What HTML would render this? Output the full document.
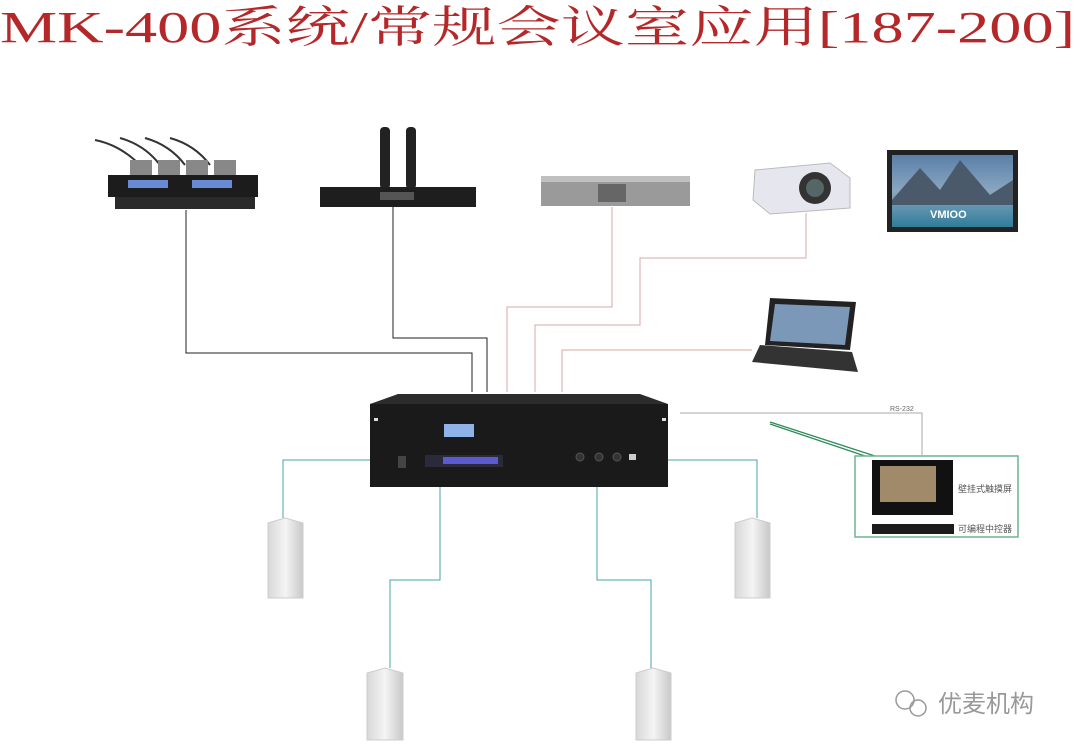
<!DOCTYPE html>
<html><head><meta charset="utf-8"><style>
html,body{margin:0;padding:0;background:#fff;width:1080px;height:750px;overflow:hidden}
</style></head><body>
<svg width="1080" height="750" viewBox="0 0 1080 750" xmlns="http://www.w3.org/2000/svg">
<defs>
<linearGradient id="spk" x1="0" x2="1"><stop offset="0" stop-color="#d8d8d8"/><stop offset="0.5" stop-color="#f4f4f4"/><stop offset="1" stop-color="#c8c8c8"/></linearGradient>
<linearGradient id="scr" x1="0" y1="0" x2="0" y2="1"><stop offset="0" stop-color="#5a7fa8"/><stop offset="0.5" stop-color="#8aa7c0"/><stop offset="1" stop-color="#2f7d9a"/></linearGradient>
</defs>
<text x="0" y="42" font-family="Liberation Serif, Noto Serif CJK SC, serif" font-size="44" fill="#b5282a" textLength="1075" lengthAdjust="spacingAndGlyphs">MK-400系统/常规会议室应用[187-200]</text>

<!-- lines -->
<g fill="none" stroke-width="1">
<polyline points="186,210 186,353 472,353 472,392" stroke="#222"/>
<polyline points="393,207 393,338 487,338 487,392" stroke="#222"/>
<polyline points="612,207 612,307 507,307 507,392" stroke="#d9a8a8"/>
<polyline points="806,213 806,258 640,258 640,325 535,325 535,392" stroke="#d9a8a8"/>
<polyline points="752,350 562,350 562,392" stroke="#d9a8a8"/>
<polyline points="680,413 922,413 922,455" stroke="#aaa"/>
<line x1="770" y1="422" x2="875" y2="456" stroke="#2e8b57" stroke-width="1.2"/>
<line x1="770" y1="424" x2="865" y2="456" stroke="#2e8b57" stroke-width="1.2"/>
<polyline points="370,460 283,460 283,518" stroke="#4aa3a8"/>
<polyline points="440,487 440,580 390,580 390,668" stroke="#4aa3a8"/>
<polyline points="597,487 597,580 651,580 651,668" stroke="#4aa3a8"/>
<polyline points="668,460 757,460 757,518" stroke="#4aa3a8"/>
</g>
<text x="890" y="411" font-family="Liberation Sans, sans-serif" font-size="7" fill="#666">RS-232</text>

<!-- conference mics -->
<g>
<path d="M95,140 Q120,145 140,165 M120,138 Q145,145 160,165 M145,138 Q170,145 185,165 M170,138 Q195,145 210,165" stroke="#333" stroke-width="2" fill="none"/>
<rect x="130" y="160" width="22" height="18" fill="#888"/><rect x="158" y="160" width="22" height="18" fill="#888"/><rect x="186" y="160" width="22" height="18" fill="#888"/><rect x="214" y="160" width="22" height="18" fill="#888"/>
<rect x="108" y="175" width="150" height="22" fill="#1c1c1c"/>
<rect x="128" y="180" width="40" height="8" fill="#6a8ad8"/><rect x="192" y="180" width="40" height="8" fill="#6a8ad8"/>
<rect x="115" y="197" width="140" height="12" fill="#2a2a2a"/>
</g>
<!-- wireless mic -->
<g>
<rect x="380" y="127" width="10" height="62" rx="4" fill="#222"/><rect x="406" y="127" width="10" height="62" rx="4" fill="#222"/>
<rect x="320" y="187" width="156" height="20" fill="#1e1e1e"/>
<rect x="380" y="192" width="34" height="8" fill="#555"/>
</g>
<!-- DVD -->
<g><rect x="541" y="176" width="149" height="30" fill="#9a9a9a"/><rect x="541" y="176" width="149" height="6" fill="#c0c0c0"/><rect x="598" y="184" width="28" height="18" fill="#666"/></g>
<!-- projector -->
<g><path d="M755,170 L830,163 L850,178 L850,208 L770,214 L753,200 Z" fill="#e6e6ee" stroke="#bbb"/><circle cx="815" cy="188" r="16" fill="#333"/><circle cx="815" cy="188" r="9" fill="#566"/></g>
<!-- screen -->
<g><rect x="887" y="150" width="131" height="82" fill="#222"/><rect x="892" y="155" width="121" height="72" fill="url(#scr)"/><path d="M892,200 L920,168 L940,190 L960,160 L990,195 L1013,180 L1013,205 L892,205Z" fill="#4a5a6a"/><text x="930" y="218" font-family="Liberation Sans, sans-serif" font-size="11" font-weight="bold" fill="#fff">VMIOO</text></g>
<!-- laptop -->
<g><path d="M770,298 L856,302 L850,350 L765,345 Z" fill="#222"/><path d="M775,304 L850,307 L845,345 L770,341 Z" fill="#7b98b8"/><path d="M760,345 L852,352 L858,372 L752,362 Z" fill="#333"/></g>

<!-- main unit -->
<g>
<path d="M398,394 L640,394 L668,404 L370,404 Z" fill="#2c2c2c"/>
<rect x="370" y="404" width="298" height="83" fill="#1a1a1a"/>
<rect x="444" y="424" width="30" height="13" fill="#8fb2e8"/>
<rect x="425" y="455" width="78" height="12" fill="#2a2a3a"/><rect x="443" y="457" width="55" height="7" fill="#5b5bd0"/>
<rect x="398" y="456" width="8" height="12" fill="#444"/>
<circle cx="580" cy="457" r="4" fill="#333" stroke="#555"/><circle cx="599" cy="457" r="4" fill="#333" stroke="#555"/><circle cx="617" cy="457" r="4" fill="#333" stroke="#555"/>
<rect x="629" y="454" width="7" height="6" fill="#ccc"/>
<rect x="374" y="418" width="4" height="3" fill="#ddd"/><rect x="662" y="418" width="4" height="3" fill="#ddd"/>
</g>

<!-- speakers -->
<g fill="url(#spk)" stroke="#ccc">
<path d="M268,523 L285,518 L303,523 L303,598 L268,598 Z"/>
<path d="M735,523 L752,518 L770,523 L770,598 L735,598 Z"/>
<path d="M367,673 L385,668 L403,673 L403,740 L367,740 Z"/>
<path d="M636,673 L653,668 L671,673 L671,740 L636,740 Z"/>
</g>

<!-- control box -->
<g>
<rect x="855" y="456" width="163" height="81" fill="#fff" stroke="#6cb58f" stroke-width="1.5"/>
<rect x="872" y="460" width="81" height="55" fill="#111"/>
<rect x="880" y="466" width="56" height="36" fill="#a08a6a"/>
<rect x="872" y="524" width="82" height="10" fill="#1c1c1c"/>
<text x="958" y="492" font-family="Liberation Sans, Noto Sans CJK SC, sans-serif" font-size="9" fill="#555">壁挂式触摸屏</text>
<text x="958" y="532" font-family="Liberation Sans, Noto Sans CJK SC, sans-serif" font-size="9" fill="#555">可编程中控器</text>
</g>

<!-- watermark -->
<g>
<circle cx="905" cy="700" r="9" fill="none" stroke="#999" stroke-width="1.5"/><circle cx="918" cy="708" r="8" fill="none" stroke="#999" stroke-width="1.5"/>
<text x="938" y="712" font-family="Liberation Sans, Noto Sans CJK SC, sans-serif" font-size="24" fill="#999">优麦机构</text>
</g>
</svg>
</body></html>
